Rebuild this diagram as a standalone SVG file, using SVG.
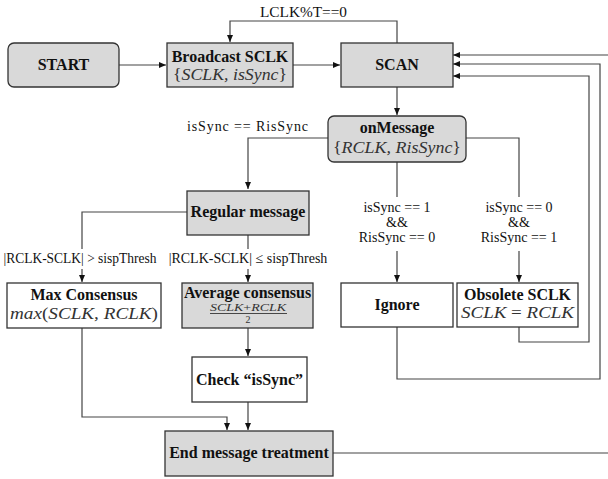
<svg xmlns="http://www.w3.org/2000/svg" width="608" height="479" viewBox="0 0 608 479" font-family="'Liberation Serif', 'DejaVu Serif', serif">
<style>
.box{fill:#ffffff;stroke:#333333;stroke-width:1.3}
.gray{fill:#d9d9d9}
.t{font-size:16px;font-weight:bold;fill:#111;text-anchor:middle}
.m{font-size:16px;font-style:italic;fill:#333;text-anchor:middle}
.mu{font-style:normal}
.l{font-size:14px;fill:#111;text-anchor:middle}
.c{fill:none;stroke:#444444;stroke-width:1.2}
</style>
<defs>
<marker id="arr" markerWidth="8" markerHeight="8" refX="7" refY="4" orient="auto" markerUnits="userSpaceOnUse">
<path d="M0,1 L7,4 L0,7 Z" fill="#111"/>
</marker>
</defs>

<g id="connectors">
<path class="c" d="M119,65 H166" marker-end="url(#arr)"/>
<path class="c" d="M293,65 H340" marker-end="url(#arr)"/>
<path class="c" d="M397,43 V21 H230 V42" marker-end="url(#arr)"/>
<path class="c" d="M397,87 V115" marker-end="url(#arr)"/>
<path class="c" d="M328,138 H248 V189" marker-end="url(#arr)"/>
<path class="c" d="M466,138 H519 V197"/>
<path class="c" d="M519,251 V282" marker-end="url(#arr)"/>
<path class="c" d="M397,162 V197"/>
<path class="c" d="M397,251 V282" marker-end="url(#arr)"/>
<path class="c" d="M187,212 H82 V249"/>
<path class="c" d="M82,269 V282" marker-end="url(#arr)"/>
<path class="c" d="M248,235 V249"/>
<path class="c" d="M248,269 V282" marker-end="url(#arr)"/>
<path class="c" d="M248,328 V356" marker-end="url(#arr)"/>
<path class="c" d="M248,402 V430" marker-end="url(#arr)"/>
<path class="c" d="M82,328 V417 H227 V430" marker-end="url(#arr)"/>
<path class="c" d="M333,453 H608"/>
<path class="c" d="M608,55 H453" marker-end="url(#arr)"/>
<path class="c" d="M397,327 V379 H600 V64 H453" marker-end="url(#arr)"/>
<path class="c" d="M519,327 V342 H589 V76 H453" marker-end="url(#arr)"/>
<text class="l" x="303.5" y="17" textLength="87" lengthAdjust="spacingAndGlyphs">LCLK%T==0</text>
<text class="l" x="247.5" y="131" textLength="121" lengthAdjust="spacing">isSync == RisSync</text>
<text class="l" x="397" y="212">isSync == 1</text>
<text class="l" x="397" y="227">&amp;&amp;</text>
<text class="l" x="397" y="242">RisSync == 0</text>
<text class="l" x="519" y="212">isSync == 0</text>
<text class="l" x="519" y="227">&amp;&amp;</text>
<text class="l" x="519" y="242">RisSync == 1</text>
<text class="l" x="80" y="263" textLength="153" lengthAdjust="spacingAndGlyphs">|RCLK-SCLK| &gt; sispThresh</text>
<text class="l" x="248" y="263">|RCLK-SCLK| ≤ sispThresh</text>
</g>

<g id="start">
<rect class="box gray" x="8" y="43" width="111" height="44" rx="6"/>
<text class="t" x="63.5" y="70">START</text>
</g>

<g id="broadcast">
<rect class="box gray" x="167" y="43" width="126" height="44"/>
<text class="t" x="230" y="62">Broadcast SCLK</text>
<text class="m" x="230" y="80" textLength="114" lengthAdjust="spacingAndGlyphs"><tspan class="mu">{</tspan>SCLK, isSync<tspan class="mu">}</tspan></text>
</g>

<g id="scan">
<rect class="box gray" x="341" y="43" width="112" height="44"/>
<text class="t" x="397" y="70">SCAN</text>
</g>

<g id="onmessage">
<rect class="box gray" x="328" y="116" width="138" height="46" rx="6"/>
<text class="t" x="397" y="133">onMessage</text>
<text class="m" x="397" y="153" textLength="128" lengthAdjust="spacingAndGlyphs"><tspan class="mu">{</tspan>RCLK, RisSync<tspan class="mu">}</tspan></text>
</g>

<g id="regular">
<rect class="box gray" x="187" y="191" width="122" height="44"/>
<text class="t" x="248" y="217">Regular message</text>
</g>

<g id="maxconsensus">
<rect class="box" x="7" y="283" width="154" height="45"/>
<text class="t" x="84" y="300">Max Consensus</text>
<text class="m" x="84" y="319" textLength="148" lengthAdjust="spacingAndGlyphs">max<tspan class="mu">(</tspan>SCLK, RCLK<tspan class="mu">)</tspan></text>
</g>

<g id="average">
<rect class="box gray" x="182" y="283" width="131" height="45"/>
<text class="t" x="247.5" y="298">Average consensus</text>
<text class="m" x="248" y="311" style="font-size:10px" textLength="76" lengthAdjust="spacingAndGlyphs">SCLK<tspan class="mu">+</tspan>RCLK</text>
<line x1="210" y1="313.5" x2="287" y2="313.5" stroke="#222" stroke-width="0.8"/>
<text class="m mu" x="248" y="323" style="font-size:10px;font-style:normal">2</text>
</g>

<g id="ignore">
<rect class="box" x="341" y="283" width="112" height="44"/>
<text class="t" x="397" y="310">Ignore</text>
</g>

<g id="obsolete">
<rect class="box" x="457" y="283" width="121" height="44"/>
<text class="t" x="517.5" y="300">Obsolete SCLK</text>
<text class="m" x="517.5" y="318" textLength="113" lengthAdjust="spacingAndGlyphs">SCLK <tspan class="mu">=</tspan> RCLK</text>
</g>

<g id="checkissync">
<rect class="box" x="192" y="357" width="115" height="45"/>
<text class="t" x="249.5" y="385">Check “isSync”</text>
</g>

<g id="endmessage">
<rect class="box gray" x="165" y="431" width="168" height="45"/>
<text class="t" x="249" y="458">End message treatment</text>
</g>
</svg>
